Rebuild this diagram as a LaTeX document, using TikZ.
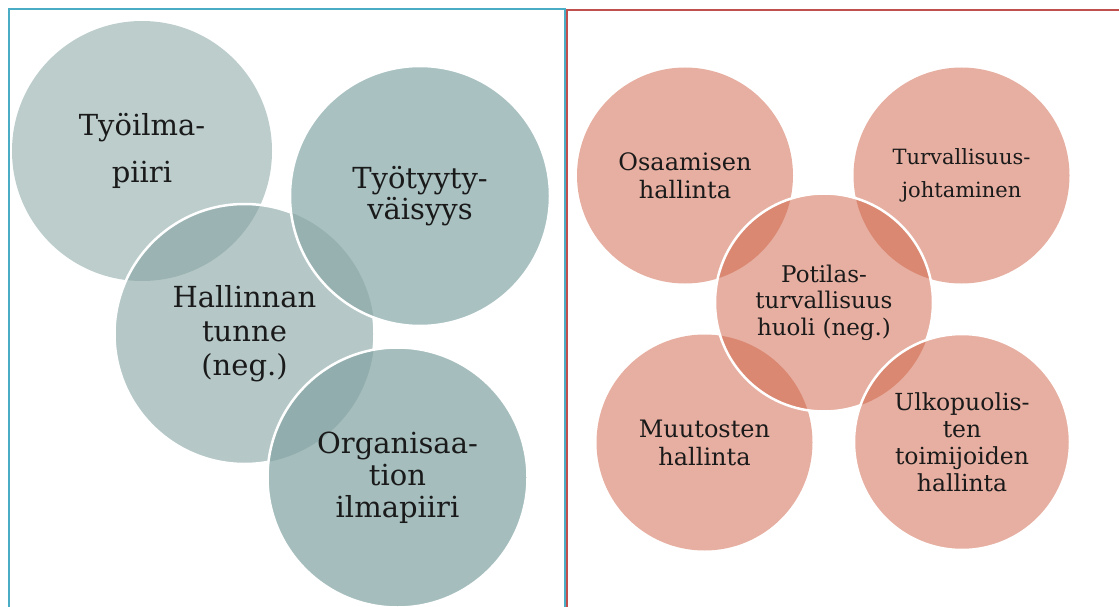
\documentclass[tikz,border=0pt]{standalone}
\usepackage{fontspec}
\setmainfont{DejaVu Serif}
\definecolor{frameblue}{HTML}{4BACC6}
\definecolor{framered}{HTML}{C0504D}
\definecolor{cA}{HTML}{BCCDCC}
\definecolor{cC}{HTML}{B5C8C7}
\definecolor{cB}{HTML}{A9C1C1}
\definecolor{cD}{HTML}{A5BEBD}
\definecolor{lAC}{HTML}{9BB3B3}
\definecolor{lCB}{HTML}{97B0B0}
\definecolor{lCD}{HTML}{92ADAD}
\definecolor{cP}{HTML}{E7AFA1}
\definecolor{lP}{HTML}{DA8872}
\definecolor{ink}{HTML}{1A1A1A}
\begin{document}
\begin{tikzpicture}[x=1pt,y=-1pt,
  bubble/.style={circle,minimum size=#1,inner sep=0pt,outer sep=0pt},
  bubble/.default=260pt,
  rim/.style={draw=white,line width=2.5pt},
  lbl/.style={align=center,text=ink,inner sep=0pt}]
\useasboundingbox (0,0) rectangle (1119,607);
% frames
\draw[frameblue,line width=2pt] (9,9) rectangle (565,650);
\draw[framered,line width=2pt] (567,10.5) rectangle (1150,650);
% ---- left panel ----
\node[bubble,fill=cA] (A) at (142,151) {};
\node[bubble,fill=cC] (C) at (244.5,334) {};
\begin{scope}\clip (A) circle (130); \fill[lAC] (C) circle (130);\end{scope}
\draw[rim] (C) circle (130);
\node[bubble,fill=cB] (B) at (420,196) {};
\begin{scope}\clip (C) circle (130); \fill[lCB] (B) circle (130);\end{scope}
\draw[rim] (B) circle (130);
\node[bubble,fill=cD] (D) at (397.5,477.5) {};
\begin{scope}\clip (C) circle (130); \fill[lCD] (D) circle (130);\end{scope}
\draw[rim] (D) circle (130);
% ---- right panel ----
\node[bubble=216pt,fill=cP] (P1) at (685,175.5) {};
\node[bubble=216pt,fill=cP] (P2) at (961.5,175.5) {};
\node[bubble=216pt,fill=cP] (P3) at (704.5,442.5) {};
\node[bubble=218pt,fill=cP] (P0) at (824,302.5) {};
\begin{scope}\clip (P0) circle (109);
  \fill[lP] (P1) circle (108); \fill[lP] (P2) circle (108); \fill[lP] (P3) circle (108);
\end{scope}
\draw[rim] (P0) circle (109);
\node[bubble=216pt,fill=cP] (P4) at (962,442) {};
\begin{scope}\clip (P0) circle (109); \fill[lP] (P4) circle (108);\end{scope}
\draw[rim] (P4) circle (108);
% ---- labels ----
\node[lbl,font=\fontsize{29}{47}\selectfont] (tA) at (A) {Työilma-\\piiri};
\node[lbl,font=\fontsize{29}{34}\selectfont] (tC) at (C) {Hallinnan\\tunne\\(neg.)};
\node[lbl,font=\fontsize{29}{31}\selectfont] (tB) at (B) {Työtyyty-\\väisyys};
\node[lbl,font=\fontsize{29}{32}\selectfont] (tD) at (D) {Organisaa-\\tion\\ilmapiiri};
\node[lbl,font=\fontsize{24}{28}\selectfont] (t1) at (P1) {Osaamisen\\hallinta};
\node[lbl,font=\fontsize{21}{33}\selectfont] (t2) at (P2) {Turvallisuus-\\johtaminen};
\node[lbl,font=\fontsize{24}{28}\selectfont] (t3) at (P3) {Muutosten\\hallinta};
\node[lbl,font=\fontsize{23}{26.5}\selectfont] (t0) at (P0) {Potilas-\\turvallisuus\\huoli (neg.)};
\node[lbl,font=\fontsize{23.5}{27}\selectfont] (t4) at (P4) {Ulkopuolis-\\ten\\toimijoiden\\hallinta};
\end{tikzpicture}
\end{document}
